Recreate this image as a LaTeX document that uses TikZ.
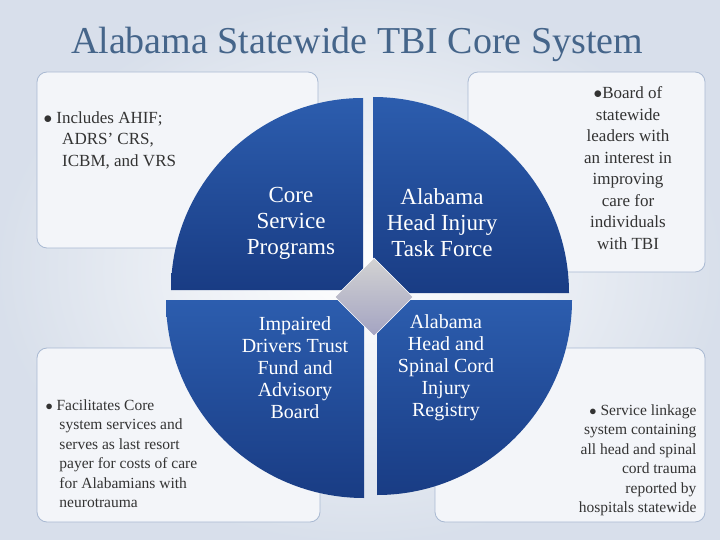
\documentclass[tikz,border=0pt]{standalone}
\usepackage{fontspec}
\setmainfont{Liberation Serif}
\begin{document}
\begin{tikzpicture}[x=1pt,y=-1pt,
  box/.style={draw=boxline,line width=0.8pt,fill=boxfill,rounded corners=10pt},
  qtext/.style={text=white,align=center,font=\fontsize{23}{26}\selectfont},
  qtextb/.style={text=white,align=center,font=\fontsize{20}{22}\selectfont},
  btext/.style={text=txt,font=\fontsize{17}{21.5}\selectfont}]
\definecolor{boxline}{HTML}{A9B9D2}
\definecolor{boxfill}{HTML}{F3F5F9}
\definecolor{txt}{HTML}{333333}
\definecolor{qtop}{HTML}{2C5DAE}
\definecolor{qbot}{HTML}{193C84}
\definecolor{ttl}{HTML}{45658A}
\useasboundingbox (0,0) rectangle (720,540);
\shade[inner color=white,outer color=boxline!45] (0,0) rectangle (720,540);
\node[text=ttl,font=\fontsize{38}{40}\selectfont] (title) at (357,44) {Alabama Statewide TBI Core System};
% boxes
\draw[box] (37,72) rectangle (318,248);
\draw[box] (468,72) rectangle (705,272);
\draw[box] (37,348) rectangle (320,522);
\draw[box] (435,348) rectangle (705,522);
\node[btext,anchor=north west,align=left] (tl) at (40,108) {$\bullet$ Includes AHIF;\\\hspace{1.1em}ADRS' CRS,\\\hspace{1.1em}ICBM, and VRS};
\node[btext,align=center] (tr) at (628,168) {$\bullet$Board of\\statewide\\leaders with\\an interest in\\improving\\care for\\individuals\\with TBI};
\node[btext,anchor=north west,align=left,font=\fontsize{15.5}{19.5}\selectfont] (bl) at (42,396) {$\bullet$ Facilitates Core\\\hspace{0.9em}system services and\\\hspace{0.9em}serves as last resort\\\hspace{0.9em}payer for costs of care\\\hspace{0.9em}for Alabamians with\\\hspace{0.9em}neurotrauma};
\node[btext,anchor=north east,align=right,font=\fontsize{15.5}{19.5}\selectfont] (br) at (700,401) {$\bullet$ Service linkage\\system containing\\all head and spinal\\cord trauma\\reported by\\hospitals statewide};
% quadrants (exploded pie)
\shade[top color=qtop,bottom color=qbot] (363,290) -- (363,98) arc[start angle=-90,end angle=-180,radius=192] -- cycle;
\shade[top color=qtop,bottom color=qbot] (373,293) -- (569,293) arc[start angle=0,end angle=-90,radius=196] -- cycle;
\shade[top color=qtop,bottom color=qbot] (364,300) -- (166,300) arc[start angle=180,end angle=90,radius=198] -- cycle;
\shade[top color=qtop,bottom color=qbot] (377,300) -- (377,495) arc[start angle=90,end angle=0,radius=195] -- cycle;
\node[qtext] (q1) at (291,223) {Core\\Service\\Programs};
\node[qtext] (q2) at (442,223) {Alabama\\Head Injury\\Task Force};
\node[qtextb] (q3) at (295,368) {Impaired\\Drivers Trust\\Fund and\\Advisory\\Board};
\node[qtextb] (q4) at (446,368) {Alabama\\Head and\\Spinal Cord\\Injury\\Registry};
% diamond
\shade[top color=gray!35,bottom color=gray!80!blue!60,draw=white,line width=0.5pt]
  (374,258) -- (413,297) -- (374,336) -- (335,297) -- cycle;
\end{tikzpicture}
\end{document}
